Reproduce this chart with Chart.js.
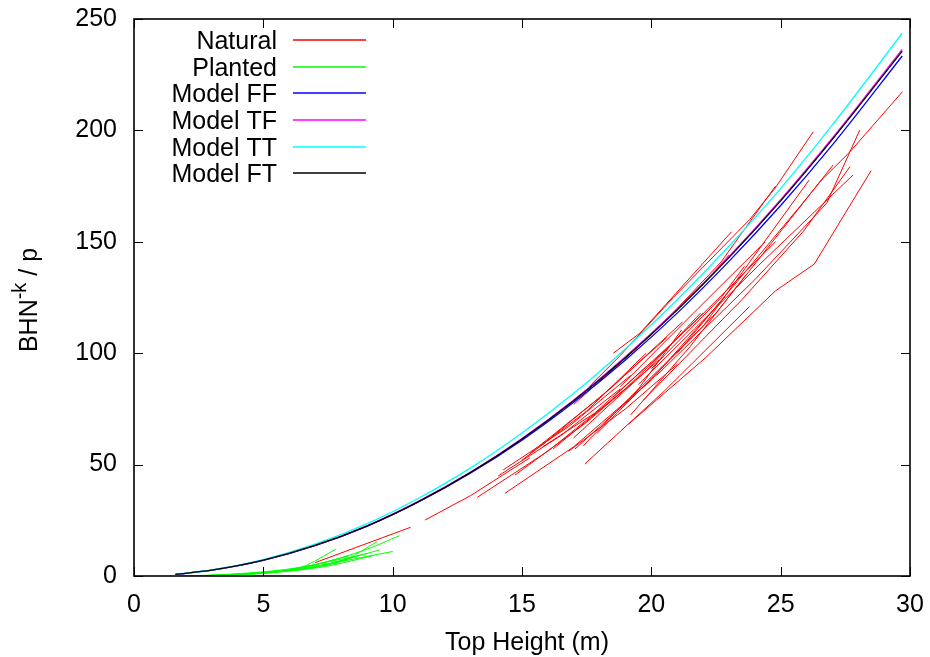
<!DOCTYPE html>
<html><head><meta charset="utf-8">
<script src="https://cdn.jsdelivr.net/npm/chart.js@4"></script>
<style>html,body{margin:0;padding:0;background:#fff;}</style>
</head><body>
<canvas id="c" width="930" height="657" style="display:block;width:930px;height:657px"></canvas>
<script>
// ---- data ----
const xTicks = [0, 5, 10, 15, 20, 25, 30];
const yTicks = [0, 50, 100, 150, 200, 250];
const xTitle = 'Top Height (m)';
const yTitleParts = ['BHN', '-k', ' / p'];
const seriesNames = ['Natural', 'Planted', 'Model FF', 'Model TF', 'Model TT', 'Model FT'];
const seriesColors = ['#ff0000', '#00ff00', '#0000ff', '#ff00ff', '#00ffff', '#000000'];

const modelHeights = [1.6, 3, 5, 7, 9, 11, 13, 15, 17, 19, 21, 23, 25, 27, 29.7];
const modelFF = [0.7, 2.6, 7.0, 13.6, 22.3, 33.2, 46.1, 61.0, 78.0, 97.0, 118.0, 141.2, 166.3, 193.5, 233.4];
const modelTF = [0.7, 2.6, 7.1, 13.7, 22.5, 33.5, 46.5, 61.7, 79.0, 98.4, 119.8, 143.3, 168.9, 196.6, 236.4];
const modelTT = [0.8, 2.7, 7.4, 14.3, 23.4, 34.9, 48.4, 64.2, 82.0, 102.0, 124.0, 148.0, 174.0, 202.5, 243.6];
const modelFT = [0.7, 2.6, 7.1, 13.7, 22.4, 33.4, 46.4, 61.5, 78.7, 98.0, 119.4, 142.9, 168.4, 196.0, 235.6];

// each natural stand: list of [top height, value] points
const naturalLines = [
  [[7.0, 6.0], [10.7, 21.9]],
  [[11.25, 25.1], [13.0, 36.0], [15.3, 53.0]],
  [[13.27, 35.3], [16.0, 56.0], [19.0, 84.0]],
  [[14.34, 37.1], [17.0, 58.0], [20.0, 88.0]],
  [[14.08, 44.9], [16.5, 63.0], [18.8, 84.0]],
  [[14.73, 45.3], [17.5, 69.0], [20.3, 97.0]],
  [[14.27, 47.6], [16.8, 67.0], [19.2, 90.0]],
  [[15.0, 52.0], [17.5, 74.0], [19.8, 100.0]],
  [[15.3, 55.0], [18.0, 80.0], [20.6, 107.0]],
  [[15.8, 59.0], [18.5, 85.0], [21.2, 114.0]],
  [[16.2, 57.0], [19.0, 84.0], [22.0, 118.0]],
  [[15.8, 58.0], [17.8, 73.0], [20.0, 96.0]],
  [[16.8, 56.0], [19.0, 75.0], [21.0, 95.0]],
  [[17.0, 62.0], [19.8, 92.0], [21.9, 118.0]],
  [[17.6, 85.0], [18.8, 99.0], [20.85, 125.0], [23.8, 160.0], [24.78, 174.0], [26.26, 199.4]],
  [[18.53, 100.0], [19.56, 109.0], [23.1, 154.5]],
  [[17.0, 77.0], [19.5, 103.0], [22.0, 131.0], [23.0, 144.0]],
  [[20.5, 114.0], [22.7, 141.0], [24.8, 175.0]],
  [[18.8, 85.0], [21.8, 120.0], [24.4, 150.0]],
  [[20.0, 93.0], [22.7, 125.0], [23.6, 139.0]],
  [[19.1, 68.0], [22.1, 98.0], [24.8, 128.0], [26.3, 140.0], [28.5, 182.0]],
  [[17.43, 50.3], [20.5, 83.0], [23.8, 121.0]],
  [[19.2, 72.3], [21.5, 103.0], [23.68, 135.5]],
  [[17.05, 57.0], [20.0, 88.0], [22.85, 125.4]],
  [[17.37, 58.5], [19.5, 84.0], [21.17, 110.4]],
  [[17.9, 64.0], [22.5, 118.0], [27.03, 184.5]],
  [[18.3, 70.0], [22.0, 112.0], [26.1, 177.7]],
  [[19.7, 79.0], [23.5, 124.0], [25.9, 155.0], [27.68, 183.7]],
  [[20.2, 90.0], [24.0, 133.0], [26.78, 167.3], [28.06, 200.2]],
  [[21.0, 100.0], [25.74, 165.8], [26.58, 177.7], [27.68, 190.4], [29.71, 217.4]],
  [[19.5, 86.0], [24.2, 140.0], [27.8, 180.0]],
  [[18.5, 80.0], [21.5, 112.0], [24.8, 150.0]]
];

// each planted stand
const plantedLines = [
  [[2.0, 0.0], [4.0, 0.8], [5.5, 2.2], [6.5, 4.0], [7.8, 12.0]],
  [[2.5, 0.0], [5.0, 1.6], [7.0, 5.0], [9.0, 12.0], [10.26, 18.1]],
  [[3.0, 0.2], [5.5, 1.9], [7.5, 5.5], [10.0, 11.0]],
  [[2.2, 0.0], [5.0, 1.2], [7.0, 4.0], [9.5, 11.7]],
  [[3.5, 0.3], [6.0, 2.5], [8.0, 6.5], [9.4, 15.4]],
  [[4.0, 0.5], [6.0, 2.2], [7.5, 4.5], [9.2, 9.0]],
  [[2.8, 0.1], [5.8, 2.8], [8.0, 7.5], [9.0, 10.0]],
  [[3.2, 0.1], [5.2, 1.5], [6.9, 3.8], [8.5, 8.5]],
  [[1.8, 0.0], [4.5, 0.9], [6.2, 3.0], [8.3, 9.0]]
];

// ---- build chart ----
const FONT = '"Liberation Sans", Arial, Helvetica, sans-serif';
const toPts = arr => arr.map(p => ({x: p[0], y: p[1]}));
const datasets = [];
naturalLines.forEach(l => datasets.push({
  label: seriesNames[0], data: toPts(l), borderColor: seriesColors[0], borderWidth: 1,
  showLine: true, pointRadius: 0, tension: 0, order: 6, fill: false
}));
plantedLines.forEach(l => datasets.push({
  label: seriesNames[1], data: toPts(l), borderColor: seriesColors[1], borderWidth: 1,
  showLine: true, pointRadius: 0, tension: 0.3, order: 5, fill: false
}));
const models = [modelFF, modelTF, modelTT, modelFT];
const modelOrder = [4, 3, 2, 1];
models.forEach((m, i) => datasets.push({
  label: seriesNames[2 + i],
  data: modelHeights.map((h, j) => ({x: h, y: m[j]})),
  borderColor: seriesColors[2 + i], borderWidth: 1.3,
  showLine: true, pointRadius: 0, cubicInterpolationMode: 'monotone', order: modelOrder[i], fill: false
}));

const framePlugin = {
  id: 'frame',
  afterDraw(chart) {
    const {ctx, chartArea: a, scales: {x, y}} = chart;
    ctx.save();
    ctx.strokeStyle = '#000';
    ctx.lineWidth = 1;
    const tl = 9;
    ctx.beginPath();
    xTicks.forEach(v => {
      const px = Math.round(x.getPixelForValue(v)) + 0.5;
      ctx.moveTo(px, a.bottom); ctx.lineTo(px, a.bottom - tl);
      ctx.moveTo(px, a.top); ctx.lineTo(px, a.top + tl);
    });
    yTicks.forEach(v => {
      const py = Math.round(y.getPixelForValue(v)) + 0.5;
      ctx.moveTo(a.left, py); ctx.lineTo(a.left + tl, py);
      ctx.moveTo(a.right, py); ctx.lineTo(a.right - tl, py);
    });
    ctx.stroke();
    ctx.lineWidth = 1.6;
    ctx.strokeRect(a.left, a.top, a.right - a.left, a.bottom - a.top);

    // legend
    ctx.font = '25px ' + FONT;
    ctx.textAlign = 'right';
    ctx.textBaseline = 'alphabetic';
    seriesNames.forEach((n, i) => {
      const cy = 40 + i * 26.67;
      ctx.fillStyle = '#000';
      ctx.fillText(n, 277, cy + 9);
      ctx.strokeStyle = seriesColors[i];
      ctx.lineWidth = 1.4;
      ctx.beginPath();
      ctx.moveTo(293, Math.round(cy));
      ctx.lineTo(366, Math.round(cy));
      ctx.stroke();
    });

    // x title
    ctx.textAlign = 'center';
    ctx.fillStyle = '#000';
    ctx.fillText(xTitle, (a.left + a.right) / 2 + 5, 650);

    // y title (rotated, with superscript)
    ctx.translate(37, 300);
    ctx.rotate(-Math.PI / 2);
    const big = '25px ' + FONT, small = '20px ' + FONT;
    ctx.font = big; const w0 = ctx.measureText(yTitleParts[0]).width;
    ctx.font = small; const w1 = ctx.measureText(yTitleParts[1]).width;
    ctx.font = big; const w2 = ctx.measureText(yTitleParts[2]).width;
    let sx = -(w0 + w1 + w2) / 2;
    ctx.textAlign = 'left';
    ctx.font = big; ctx.fillText(yTitleParts[0], sx, 0); sx += w0;
    ctx.font = small; ctx.fillText(yTitleParts[1], sx, -11); sx += w1;
    ctx.font = big; ctx.fillText(yTitleParts[2], sx, 0);
    ctx.restore();
  }
};

const noPad = s => { s.paddingTop = 0; s.paddingBottom = 0; s.paddingLeft = 0; s.paddingRight = 0; };

new Chart(document.getElementById('c'), {
  type: 'scatter',
  data: {datasets},
  options: {
    responsive: false,
    animation: false,
    devicePixelRatio: 1,
    layout: {padding: {top: 19, right: 20, left: 0, bottom: 0}},
    plugins: {legend: {display: false}, tooltip: {enabled: false}},
    scales: {
      x: {
        type: 'linear', min: 0, max: 30,
        afterBuildTicks: s => { s.ticks = xTicks.map(v => ({value: v})); },
        afterFit: s => { s.height = 81; noPad(s); },
        grid: {display: false, drawTicks: false},
        border: {display: false},
        ticks: {font: {family: FONT, size: 25}, color: '#000', padding: 14, maxRotation: 0, autoSkip: false}
      },
      y: {
        type: 'linear', min: 0, max: 250,
        afterBuildTicks: s => { s.ticks = yTicks.map(v => ({value: v})); },
        afterFit: s => { s.width = 134; noPad(s); },
        grid: {display: false, drawTicks: false},
        border: {display: false},
        ticks: {font: {family: FONT, size: 25}, color: '#000', padding: 17, autoSkip: false}
      }
    }
  },
  plugins: [framePlugin]
});
</script>
</body></html>
